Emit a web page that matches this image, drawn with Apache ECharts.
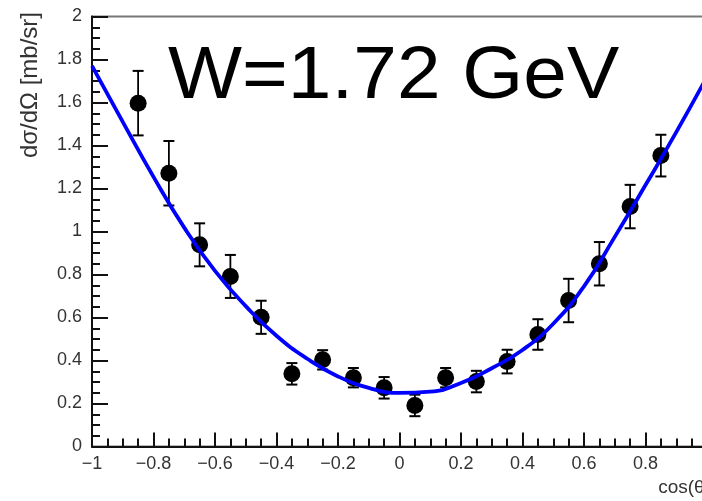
<!DOCTYPE html>
<html>
<head>
<meta charset="utf-8">
<script src="https://cdn.jsdelivr.net/npm/echarts@6/dist/echarts.min.js"></script>
<style>
  html, body { margin: 0; padding: 0; background: #fff; }
  #chart { width: 702px; height: 501px; }
</style>
</head>
<body>
<div id="chart"></div>
<script>
// Measured differential cross section, bin centres in cos(theta)
const cosTheta = [-0.85, -0.75, -0.65, -0.55, -0.45, -0.35, -0.25, -0.15, -0.05,
                  0.05, 0.15, 0.25, 0.35, 0.45, 0.55, 0.65, 0.75, 0.85];
const dsigma = [1.597, 1.271, 0.938, 0.791, 0.601, 0.338, 0.403, 0.320, 0.273,
                0.191, 0.320, 0.302, 0.395, 0.521, 0.679, 0.850, 1.116, 1.353];
const dsigmaErr = [0.150, 0.150, 0.100, 0.100, 0.077, 0.050, 0.045, 0.045, 0.050,
                   0.050, 0.045, 0.050, 0.055, 0.071, 0.101, 0.101, 0.101, 0.097];

// Fit curve, sampled along cos(theta)
const fitX = [-1.0, -0.9, -0.8, -0.7, -0.6, -0.5, -0.4, -0.3, -0.2, -0.1, 0.0,
              0.1, 0.2, 0.3, 0.4, 0.5, 0.6, 0.7, 0.8, 0.9, 1.0];
const fitY = [1.77, 1.51, 1.254, 1.018, 0.817, 0.653, 0.515, 0.408, 0.326, 0.273, 0.249,
              0.255, 0.295, 0.364, 0.449, 0.571, 0.745, 0.975, 1.216, 1.462, 1.72];

const titleText = 'W=1.72 GeV';
const yTitle = 'dσ/dΩ [mb/sr]';
const xTitle = 'cos(θ)';

const FONT = 'Liberation Sans, Arial, Helvetica, sans-serif';

const points = cosTheta.map((x, i) => [x, dsigma[i]]);
const bars = cosTheta.map((x, i) => [x, dsigma[i] - dsigmaErr[i], dsigma[i] + dsigmaErr[i]]);
const fit = fitX.map((x, i) => [x, fitY[i]]);

const fmt = v => {
  const s = String(Math.round(v * 10) / 10);
  return s.replace('-', '\u2212');
};

const chart = echarts.init(document.getElementById('chart'), null, { renderer: 'canvas' });

chart.setOption({
  animation: false,
  backgroundColor: '#fff',
  grid: {
    left: 92, right: -5, top: 16.5, bottom: 54.5,
    show: true, borderColor: '#777', borderWidth: 2,
    outerBoundsMode: 'none'
  },
  xAxis: {
    type: 'value', min: -1, max: 1, interval: 0.2,
    axisLine: { show: true, onZero: false, lineStyle: { color: '#111', width: 2 } },
    axisTick: { show: true, inside: true, length: 14, lineStyle: { color: '#111', width: 2 } },
    minorTick: { show: true, splitNumber: 4, length: 8, lineStyle: { color: '#111', width: 2 } },
    splitLine: { show: false },
    axisLabel: { color: '#333', fontSize: 18, fontFamily: FONT, margin: 9, formatter: fmt }
  },
  yAxis: {
    type: 'value', min: 0, max: 2, interval: 0.2,
    axisLine: { show: true, onZero: false, lineStyle: { color: '#111', width: 2 } },
    axisTick: { show: true, inside: true, length: 16, lineStyle: { color: '#111', width: 2 } },
    minorTick: { show: true, splitNumber: 4, length: 8, lineStyle: { color: '#111', width: 2 } },
    splitLine: { show: false },
    axisLabel: { color: '#333', fontSize: 18, fontFamily: FONT, margin: 10, formatter: fmt }
  },
  series: [
    {
      type: 'custom',
      name: 'errors',
      data: bars,
      encode: { x: 0, y: [1, 2] },
      z: 2,
      renderItem: function (params, api) {
        const x = api.value(0);
        const lo = api.coord([x, api.value(1)]);
        const hi = api.coord([x, api.value(2)]);
        const half = 5.5;
        const st = { stroke: '#000', lineWidth: 1.8 };
        return {
          type: 'group',
          children: [
            { type: 'line', shape: { x1: lo[0], y1: lo[1], x2: hi[0], y2: hi[1] }, style: st },
            { type: 'line', shape: { x1: hi[0] - half, y1: hi[1], x2: hi[0] + half, y2: hi[1] }, style: { stroke: '#000', lineWidth: 2 } },
            { type: 'line', shape: { x1: lo[0] - half, y1: lo[1], x2: lo[0] + half, y2: lo[1] }, style: { stroke: '#000', lineWidth: 2 } }
          ]
        };
      }
    },
    {
      type: 'scatter',
      name: 'data',
      data: points,
      symbol: 'circle',
      symbolSize: 17,
      itemStyle: { color: '#000', opacity: 1 },
      z: 3
    },
    {
      type: 'line',
      name: 'fit',
      data: fit,
      smooth: 0.5,
      showSymbol: false,
      symbol: 'none',
      lineStyle: { color: '#0000ff', width: 3.8 },
      z: 4
    }
  ],
  graphic: [
    {
      type: 'text', x: 168, y: 115, scaleX: 1.06, z: 10,
      style: { text: titleText, font: '74px ' + FONT, fill: '#000', textAlign: 'left', textVerticalAlign: 'bottom' }
    },
    {
      type: 'text', x: 30, y: 12, rotation: Math.PI / 2, z: 10,
      style: { text: yTitle, font: '24px ' + FONT, fill: '#333', textAlign: 'right', textVerticalAlign: 'middle' }
    },
    {
      type: 'text', x: 711, y: 488, z: 10,
      style: { text: xTitle, font: '19px ' + FONT, fill: '#333', textAlign: 'right', textVerticalAlign: 'middle' }
    }
  ]
});
</script>
</body>
</html>
